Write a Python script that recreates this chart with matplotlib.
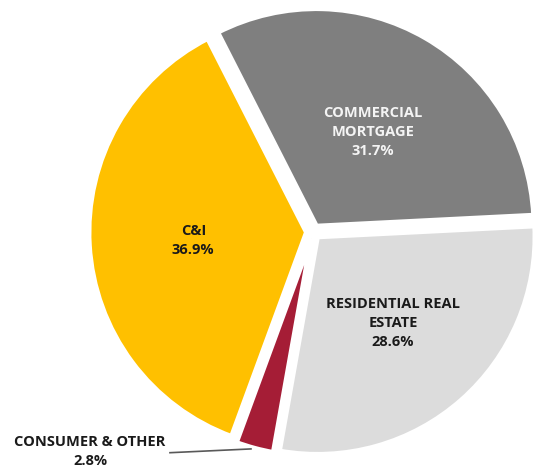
import matplotlib.pyplot as plt

# Loan portfolio mix, drawn clockwise from the upper left
segments = ['COMMERCIAL\nMORTGAGE', 'RESIDENTIAL REAL\nESTATE', 'CONSUMER & OTHER', 'C&I']
shares = [31.7, 28.6, 2.8, 36.9]
colors = ['#7F7F7F', '#DCDCDC', '#A51D36', '#FFC000']

fig = plt.figure(figsize=(5.33, 4.76), dpi=100)
ax = fig.add_axes([0, 0, 1, 1])
ax.set_aspect('equal')
ax.axis('off')

wedges, _ = ax.pie(shares, colors=colors, startangle=117, counterclock=False,
                   radius=0.98, explode=[0.03] * len(shares),
                   wedgeprops=dict(edgecolor='white', linewidth=3.5))

ax.set_xlim(-1.41, 0.99)
ax.set_ylim(-1.10, 1.045)

font = dict(family='Open Sans', fontweight='bold', fontsize=10.5,
            ha='center', va='center', linespacing=1.45)

ax.text(0.27, 0.45, f'{segments[0]}\n{shares[0]}%', color='#F4F4F4', **font)
ax.text(0.36, -0.41, f'{segments[1]}\n{shares[1]}%', color='#1A1A1A', **font)
ax.text(-0.54, -0.04, f'{segments[3]}\n{shares[3]}%', color='#1A1A1A', **font)

# small slice gets an outside label with a leader line
ax.text(-1.005, -0.99, f'{segments[2]}\n{shares[2]}%', color='#1A1A1A', **font)
ax.plot([-0.645, -0.28], [-0.995, -0.978], color='#595959', linewidth=1.2)

fig.savefig('out.png', dpi=100)
